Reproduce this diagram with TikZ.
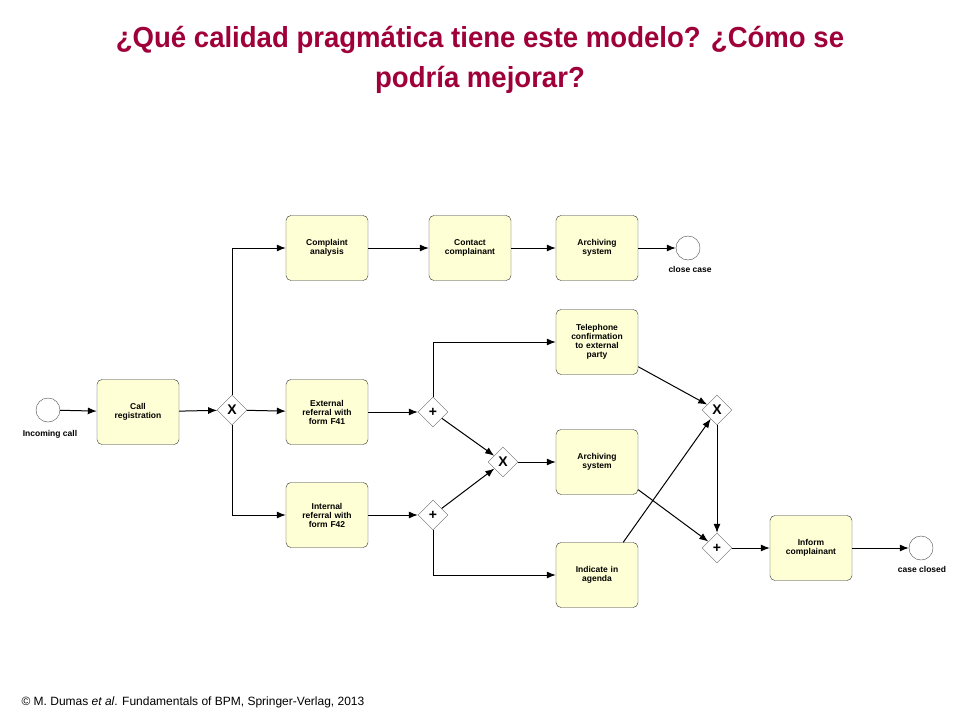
\documentclass[tikz,border=0pt]{standalone}
\usepackage{fontspec}
\setmainfont{Liberation Sans}
\usetikzlibrary{arrows.meta,shapes.geometric}
\definecolor{titlec}{RGB}{160,0,58}
\definecolor{boxc}{RGB}{255,255,214}
\begin{document}
\begin{tikzpicture}[x=1pt,y=-1pt,
  task/.style={draw=black!80,rounded corners=5pt,fill=boxc,minimum width=82pt,minimum height=65pt,align=center,font=\bfseries\fontsize{8.5}{9}\selectfont,text width=70pt,inner sep=1pt},
  gw/.style={draw=black!60,diamond,fill=white,minimum width=30pt,minimum height=30pt,inner sep=0pt,font=\bfseries\fontsize{14}{14}\selectfont},
  ev/.style={draw=black!70,circle,fill=white,minimum size=24pt,inner sep=0pt},
  lbl/.style={font=\bfseries\fontsize{8.5}{8.5}\selectfont},
  flow/.style={-{Latex[length=9pt,width=7pt]},line width=1pt}]
\useasboundingbox (0,0) rectangle (960,720);
\node[font=\bfseries\fontsize{29}{40}\selectfont,text=titlec,align=center,xscale=0.95] (title) at (480,60) {¿Qué calidad pragmática tiene este modelo? ¿Cómo se\\podría mejorar?};
\node[anchor=west,font=\fontsize{12}{13}\selectfont] (foot) at (18,702) {© M. Dumas \textit{et al}. Fundamentals of BPM, Springer-Verlag, 2013};

\node[ev] (s) at (48,410) {};
\node[lbl] (sl) at (50,434) {Incoming call};
\node[task] (cr) at (138,412) {Call\\registration};
\node[gw] (x1) at (232,410) {X};
\node[task] (ca) at (327,248) {Complaint\\analysis};
\node[task] (cc) at (470,248) {Contact\\complainant};
\node[task] (as1) at (597,248) {Archiving\\system};
\node[ev] (e1) at (688,248) {};
\node[lbl] (e1l) at (690,269) {close case};
\node[task] (er) at (327,412) {External\\referral with\\form F41};
\node[task] (ir) at (327,515) {Internal\\referral with\\form F42};
\node[gw] (a1) at (433,412) {+};
\node[gw] (a2) at (433,515) {+};
\node[task] (tc) at (597,342) {Telephone\\confirmation\\to external\\party};
\node[gw] (x2) at (503,462) {X};
\node[task] (as2) at (597,462) {Archiving\\system};
\node[task] (ia) at (597,575) {Indicate in\\agenda};
\node[gw] (x3) at (717,410) {X};
\node[gw] (a3) at (717,548) {+};
\node[task] (ic) at (811,548) {Inform\\complainant};
\node[ev] (e2) at (921,548) {};
\node[lbl] (e2l) at (922,569) {case closed};

\draw[flow] (s) -- (cr);
\draw[flow] (cr) -- (x1);
\draw[flow] (x1) |- (ca);
\draw[flow] (x1) -- (er);
\draw[flow] (x1) |- (ir);
\draw[flow] (ca) -- (cc);
\draw[flow] (cc) -- (as1);
\draw[flow] (as1) -- (e1);
\draw[flow] (er) -- (a1);
\draw[flow] (ir) -- (a2);
\draw[flow] (a1) |- (tc);
\draw[flow] (a2) |- (ia);
\draw[flow] (a1) -- (x2);
\draw[flow] (a2) -- (x2);
\draw[flow] (x2) -- (as2);
\draw[flow] (tc.south east) ++(0,-8) coordinate (t1) (t1) -- (x3);
\draw[flow] (ia.north east) ++(-15,0) coordinate (t2) (t2) -- (x3);
\draw[flow] (as2.south east) ++(0,-5) coordinate (t3) (t3) -- (a3);
\draw[flow] (x3) -- (a3);
\draw[flow] (a3) -- (ic);
\draw[flow] (ic) -- (e2);
\end{tikzpicture}
\end{document}
